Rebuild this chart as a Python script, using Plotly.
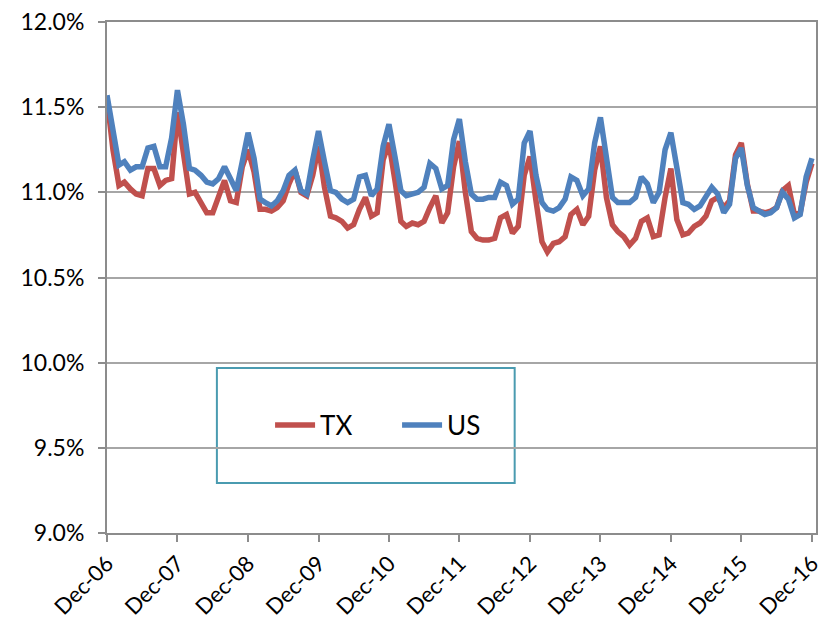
import pandas as pd
import plotly.graph_objects as go

months = pd.date_range("2006-12-01", periods=121, freq="MS")

tx = [11.55, 11.25, 11.04, 11.06, 11.02, 10.99, 10.98, 11.14, 11.14, 11.04, 11.07, 11.08,
      11.47, 11.20, 10.99, 11.00, 10.93, 10.88, 10.88, 10.98, 11.07, 10.95, 10.94, 11.15,
      11.25, 11.12, 10.90, 10.90, 10.89, 10.91, 10.95, 11.05, 11.13, 11.00, 10.98, 11.10,
      11.27, 11.03, 10.86, 10.85, 10.83, 10.79, 10.81, 10.90, 10.97, 10.86, 10.88, 11.19,
      11.29, 11.07, 10.83, 10.80, 10.82, 10.81, 10.83, 10.91, 10.98, 10.82, 10.88, 11.15,
      11.30, 11.00, 10.77, 10.73, 10.72, 10.72, 10.73, 10.85, 10.87, 10.76, 10.80, 11.10,
      11.21, 10.95, 10.71, 10.65, 10.70, 10.71, 10.74, 10.87, 10.90, 10.81, 10.86, 11.13,
      11.27, 10.97, 10.81, 10.77, 10.74, 10.69, 10.73, 10.83, 10.85, 10.74, 10.75, 10.97,
      11.14, 10.84, 10.75, 10.76, 10.80, 10.82, 10.86, 10.95, 10.97, 10.91, 10.95, 11.22,
      11.29, 11.05, 10.89, 10.89, 10.88, 10.89, 10.91, 11.01, 11.04, 10.87, 10.88, 11.06,
      11.17]

us = [11.57, 11.36, 11.16, 11.18, 11.13, 11.15, 11.15, 11.26, 11.27, 11.15, 11.15, 11.32,
      11.60, 11.40, 11.14, 11.13, 11.10, 11.06, 11.05, 11.08, 11.15, 11.08, 11.01, 11.18,
      11.35, 11.20, 10.96, 10.94, 10.92, 10.95, 11.01, 11.10, 11.13, 11.01, 10.99, 11.19,
      11.36, 11.18, 11.01, 11.00, 10.96, 10.94, 10.96, 11.09, 11.10, 10.98, 11.02, 11.27,
      11.40, 11.21, 11.01, 10.98, 10.99, 11.00, 11.03, 11.17, 11.14, 11.02, 11.04, 11.31,
      11.43, 11.18, 10.99, 10.96, 10.96, 10.97, 10.97, 11.06, 11.04, 10.93, 10.96, 11.29,
      11.36, 11.10, 10.94, 10.90, 10.89, 10.91, 10.96, 11.09, 11.07, 10.98, 11.02, 11.29,
      11.44, 11.20, 10.97, 10.94, 10.94, 10.94, 10.97, 11.09, 11.05, 10.94, 11.00, 11.25,
      11.35, 11.12, 10.94, 10.93, 10.90, 10.92, 10.97, 11.03, 10.99, 10.88, 10.93, 11.20,
      11.26, 11.04, 10.91, 10.89, 10.87, 10.88, 10.91, 11.00, 10.96, 10.85, 10.87, 11.09,
      11.20]

tick_dates = pd.date_range("2006-12-01", "2016-12-01", freq="12MS")
tick_labels = [d.strftime("%b-%y") for d in tick_dates]
y_ticks = [9.0, 9.5, 10.0, 10.5, 11.0, 11.5, 12.0]
y_labels = [f"{v:.1f}%" for v in y_ticks]

FONT = "Lato"
fig = go.Figure()
fig.add_trace(go.Scatter(x=months, y=tx, mode="lines", name="TX",
                         line=dict(color="#C0504D", width=5.5)))
fig.add_trace(go.Scatter(x=months, y=us, mode="lines", name="US",
                         line=dict(color="#4F81BD", width=5.5)))

# page body has an 8px margin, so the figure is 818x615 placed at (8, 8)
fig.update_layout(
    width=818, height=615,
    margin=dict(l=99, r=10, t=14, b=90, autoexpand=False),
    paper_bgcolor="white", plot_bgcolor="white",
    font=dict(family=FONT, size=23, color="#000000"),
    showlegend=True,
    legend=dict(orientation="h", x=0.230, y=0.211, xanchor="left", yanchor="middle",
                bgcolor="rgba(0,0,0,0)", borderwidth=0, font=dict(size=26, family=FONT),
                itemwidth=40, entrywidth=72, entrywidthmode="pixels", traceorder="normal"),
    shapes=[dict(type="rect", xref="paper", yref="paper",
                 x0=0.155, x1=0.575, y0=0.098, y1=0.323,
                 line=dict(color="#4A9BB0", width=2), fillcolor="white", layer="below")],
)
fig.update_xaxes(
    range=["2006-12-01", "2016-12-22"], automargin=False, ticklabeloverflow="allow",
    tickvals=tick_dates, ticktext=tick_labels, tickangle=-45,
    showgrid=False, showline=True, linecolor="#8C8C8C", linewidth=2, mirror=True,
    ticks="outside", ticklen=7, tickcolor="#8C8C8C", tickwidth=2,
    tickfont=dict(size=22, family=FONT),
)
fig.update_yaxes(
    range=[9.0, 12.0], tickvals=y_ticks, ticktext=y_labels, automargin=False,
    ticklabeloverflow="allow",
    showgrid=True, gridcolor="#A6A6A6", gridwidth=2,
    showline=True, linecolor="#8C8C8C", linewidth=2, mirror=True,
    ticks="outside", ticklen=7, tickcolor="#8C8C8C", tickwidth=2,
    tickfont=dict(size=23, family=FONT), zeroline=False, ticklabelstandoff=9,
)
fig.write_html("out.html")
